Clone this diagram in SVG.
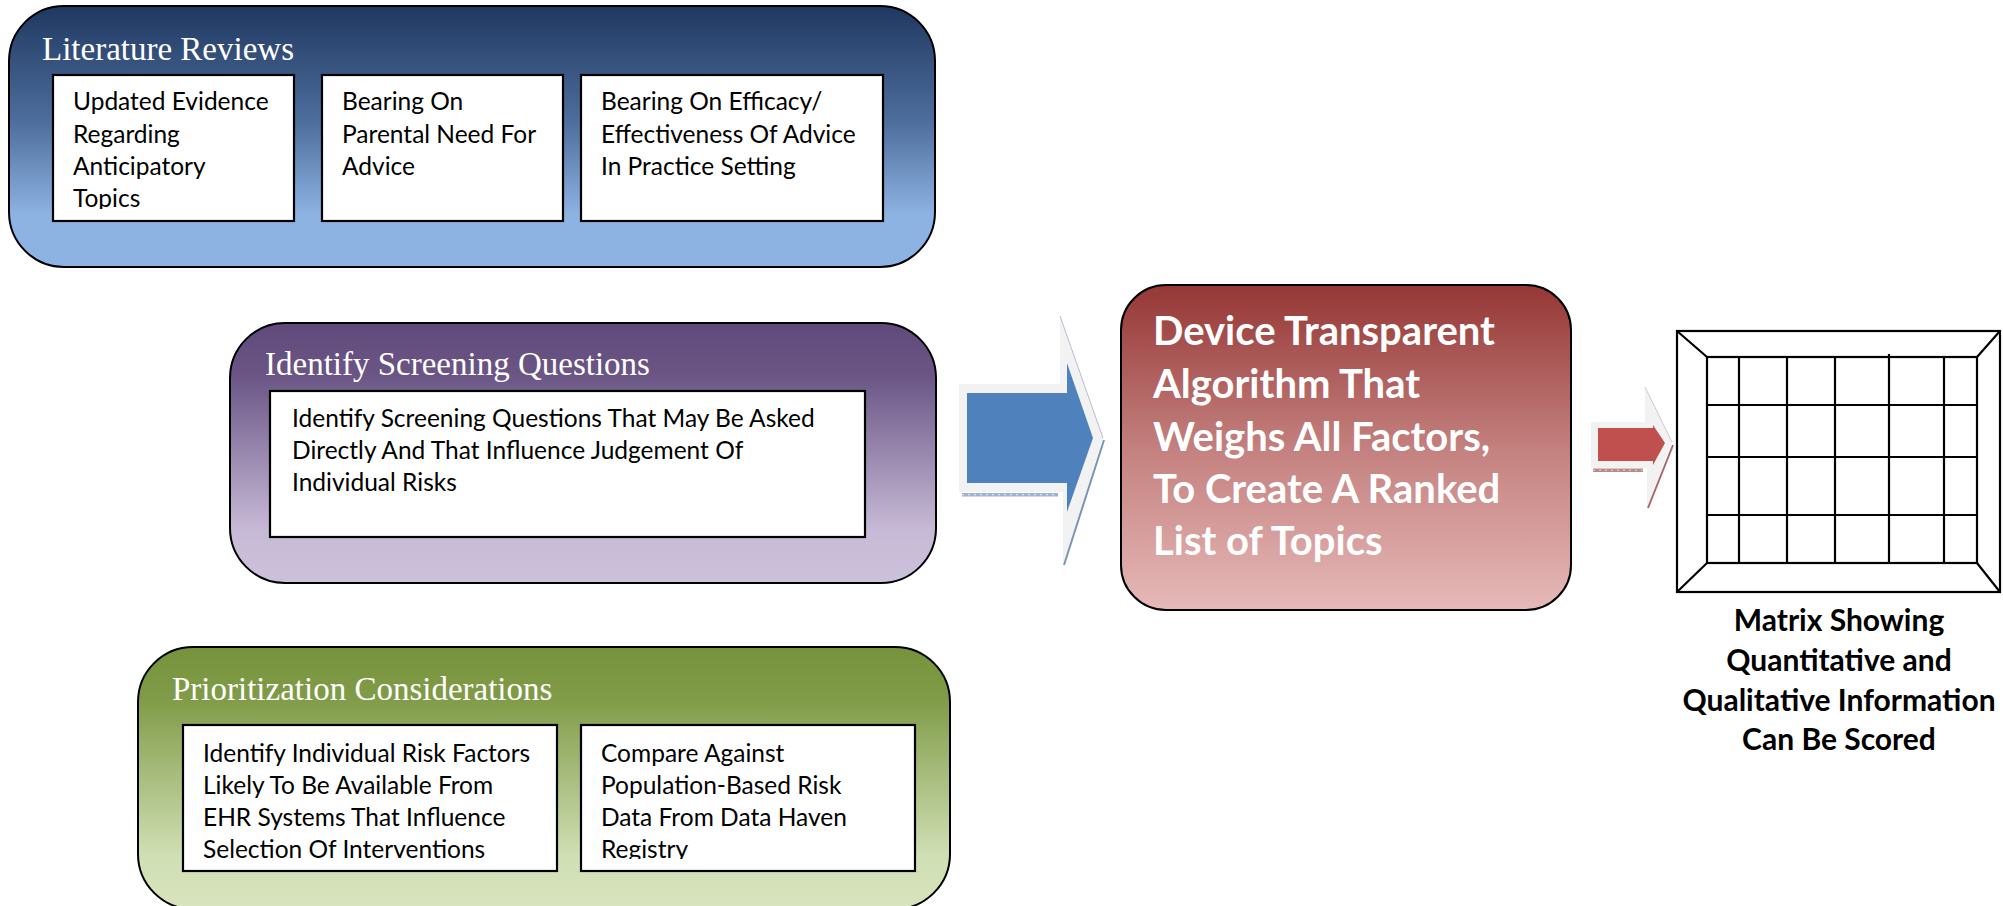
<svg xmlns="http://www.w3.org/2000/svg" width="2003" height="906" viewBox="0 0 2003 906">
<defs>
  <linearGradient id="gBlue" x1="0" y1="0" x2="0" y2="1">
    <stop offset="0" stop-color="#1f3860"/>
    <stop offset="0.45" stop-color="#4f6f9e"/>
    <stop offset="0.8" stop-color="#8db3e2"/>
    <stop offset="1" stop-color="#8db3e2"/>
  </linearGradient>
  <linearGradient id="gPurple" x1="0" y1="0" x2="0" y2="1">
    <stop offset="0" stop-color="#604a7b"/>
    <stop offset="0.2" stop-color="#6a5585"/>
    <stop offset="0.8" stop-color="#c7bad6"/>
    <stop offset="1" stop-color="#ccc1da"/>
  </linearGradient>
  <linearGradient id="gGreen" x1="0" y1="0" x2="0" y2="1">
    <stop offset="0" stop-color="#76923c"/>
    <stop offset="0.2" stop-color="#809c48"/>
    <stop offset="0.8" stop-color="#d1dfb5"/>
    <stop offset="1" stop-color="#d7e4bd"/>
  </linearGradient>
  <linearGradient id="gRed" x1="0" y1="0" x2="0" y2="1">
    <stop offset="0" stop-color="#953735"/>
    <stop offset="0.5" stop-color="#c3807e"/>
    <stop offset="1" stop-color="#e6b9b8"/>
  </linearGradient>
  <clipPath id="cL1"><rect x="53" y="75" width="241" height="134"/></clipPath>
  <clipPath id="cL2"><rect x="322" y="75" width="241" height="134"/></clipPath>
  <clipPath id="cL3"><rect x="581" y="75" width="301" height="134"/></clipPath>
  <clipPath id="cP1"><rect x="183" y="726" width="373" height="133"/></clipPath>
  <clipPath id="cP2"><rect x="582" y="726" width="332" height="133"/></clipPath>
</defs>
<style>
  .outer { stroke: #000; stroke-width: 2; }
  .inner { fill: #fff; stroke: #000; stroke-width: 2.2; }
  .title { font-family: "Liberation Serif", serif; font-size: 33px; fill: #fff; }
  .body { font-family: Lato, "Liberation Sans", sans-serif; font-size: 24.5px; fill: #000; }
  .big { font-family: Lato, "Liberation Sans", sans-serif; font-weight: bold; font-size: 40px; fill: #fff; }
  .cap { font-family: Lato, "Liberation Sans", sans-serif; font-weight: bold; font-size: 30px; fill: #000; text-anchor: middle; }
  .grid { stroke: #000; stroke-width: 2.2; fill: none; }
  .halo { fill: #f2f2f2; }
</style>

<g id="literature-reviews">
  <rect class="outer" x="9" y="6" width="926" height="261" rx="55" fill="url(#gBlue)"/>
  <text class="title" x="42" y="60">Literature Reviews</text>
  <g id="lit-evidence">
    <rect class="inner" x="53" y="75" width="241" height="146"/>
    <text class="body" clip-path="url(#cL1)"><tspan x="73" y="110">Updated Evidence</tspan><tspan x="73" y="143">Regarding</tspan><tspan x="73" y="175">Anticipatory</tspan><tspan x="73" y="207">Topics</tspan></text>
  </g>
  <g id="lit-need">
    <rect class="inner" x="322" y="75" width="241" height="146"/>
    <text class="body" clip-path="url(#cL2)"><tspan x="342" y="110">Bearing On</tspan><tspan x="342" y="143">Parental Need For</tspan><tspan x="342" y="175">Advice</tspan></text>
  </g>
  <g id="lit-efficacy">
    <rect class="inner" x="581" y="75" width="302" height="146"/>
    <text class="body" clip-path="url(#cL3)"><tspan x="601" y="110">Bearing On Efficacy/</tspan><tspan x="601" y="143">Effectiveness Of Advice</tspan><tspan x="601" y="175">In Practice Setting</tspan></text>
  </g>
</g>

<g id="screening-questions">
  <rect class="outer" x="230" y="323" width="706" height="260" rx="55" fill="url(#gPurple)"/>
  <text class="title" x="265" y="375">Identify Screening Questions</text>
  <g id="screening-detail">
    <rect class="inner" x="270" y="391" width="595" height="146"/>
    <text class="body"><tspan x="292" y="427">Identify Screening Questions That May Be Asked</tspan><tspan x="292" y="459">Directly And That Influence Judgement Of</tspan><tspan x="292" y="491">Individual Risks</tspan></text>
  </g>
</g>

<g id="prioritization">
  <rect class="outer" x="138" y="647" width="812" height="262" rx="55" fill="url(#gGreen)"/>
  <text class="title" x="172" y="700">Prioritization Considerations</text>
  <g id="prio-risk-factors">
    <rect class="inner" x="183" y="725" width="374" height="146"/>
    <text class="body" clip-path="url(#cP1)"><tspan x="203" y="762">Identify Individual Risk Factors</tspan><tspan x="203" y="794">Likely To Be Available From</tspan><tspan x="203" y="826">EHR Systems That Influence</tspan><tspan x="203" y="858">Selection Of Interventions</tspan></text>
  </g>
  <g id="prio-population">
    <rect class="inner" x="581" y="725" width="334" height="146"/>
    <text class="body" clip-path="url(#cP2)"><tspan x="601" y="762">Compare Against</tspan><tspan x="601" y="794">Population-Based Risk</tspan><tspan x="601" y="826">Data From Data Haven</tspan><tspan x="601" y="858">Registry</tspan></text>
  </g>
</g>

<g id="algorithm">
  <rect class="outer" x="1121" y="285" width="450" height="325" rx="45" fill="url(#gRed)"/>
  <text class="big"><tspan x="1153" y="345">Device Transparent</tspan><tspan x="1153" y="398">Algorithm That</tspan><tspan x="1153" y="451">Weighs All Factors,</tspan><tspan x="1153" y="503">To Create A Ranked</tspan><tspan x="1153" y="555">List of Topics</tspan></text>
</g>

<g id="matrix">
  <rect class="grid" x="1677" y="331" width="323" height="261"/>
  <rect class="grid" x="1707" y="357" width="270" height="206"/>
  <path class="grid" d="M1677,331 L1707,357 M2000,331 L1977,357 M1677,592 L1707,563 M2000,592 L1977,563"/>
  <path class="grid" d="M1739,357 V563 M1787,357 V563 M1835,357 V563 M1889,354 V563 M1944,357 V563"/>
  <path class="grid" d="M1707,405 H1977 M1707,457 H1977 M1707,515 H1977"/>
  <text class="cap"><tspan x="1839" y="631">Matrix Showing</tspan><tspan x="1839" y="671">Quantitative and</tspan><tspan x="1839" y="711">Qualitative Information</tspan><tspan x="1839" y="750">Can Be Scored</tspan></text>
</g>

<g id="connectors">
  <g id="arrow-to-algorithm">
    <polygon class="halo" points="959,384 1060,384 1060,316 1103,438 1063,565 1063,492 959,492"/>
    <rect x="962" y="493" width="96" height="3.5" fill="#9fb2cf"/>
    <path d="M962,494.7 H1058" stroke="#e8eef7" stroke-width="1" stroke-dasharray="2,4"/>
    <path d="M1060,316 L1103,438" stroke="#b5bfcc" stroke-width="1"/>
    <path d="M1104,440 L1064,565" stroke="#7d93b5" stroke-width="2"/>
    <polygon points="967,393 1067,393 1067,363 1093,438 1067,512 1067,483 967,483" fill="#4f81bd"/>
  </g>
  <g id="arrow-to-matrix">
    <polygon class="halo" points="1591,422 1645,422 1645,387 1672,442 1647,508 1647,468 1591,468"/>
    <rect x="1593" y="468.5" width="50" height="3.5" fill="#b88a89"/>
    <path d="M1593,470.2 H1643" stroke="#e9d9d9" stroke-width="1" stroke-dasharray="2,4"/>
    <path d="M1645,387 L1672,442" stroke="#d8c8c8" stroke-width="1"/>
    <path d="M1673,445 L1648,508" stroke="#a46a69" stroke-width="2"/>
    <polygon points="1598,428 1653,428 1653,425 1665,443 1653,465 1653,461 1598,461" fill="#c0504d"/>
  </g>
</g>
</svg>
